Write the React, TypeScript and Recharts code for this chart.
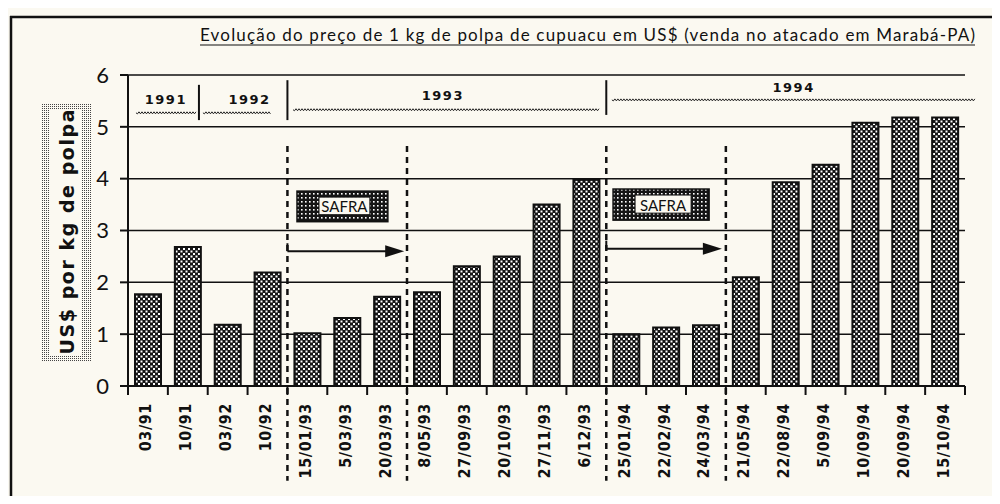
import React from "react";
import {
  BarChart,
  Bar,
  XAxis,
  YAxis,
  CartesianGrid,
  ReferenceLine,
  ReferenceArea,
  ReferenceDot,
} from "recharts";

// datas de coleta (eixo x)
const datas = [
  "03/91", "10/91", "03/92", "10/92", "15/01/93", "5/03/93", "20/03/93",
  "8/05/93", "27/09/93", "20/10/93", "27/11/93", "6/12/93", "25/01/94",
  "22/02/94", "24/03/94", "21/05/94", "22/08/94", "5/09/94", "10/09/94",
  "20/09/94", "15/10/94",
];

// US$ por kg de polpa
const precos = [
  1.77, 2.68, 1.18, 2.19, 1.02, 1.31, 1.72, 1.81, 2.31, 2.5, 3.5, 3.98,
  1.0, 1.13, 1.17, 2.1, 3.93, 4.27, 5.08, 5.18, 5.18,
];

const yTicks = [0, 1, 2, 3, 4, 5, 6];

const anos = ["1991", "1992", "1993", "1994"];

const dados = datas.map((d, i) => ({ data: d, preco: precos[i] }));

// anotações em unidades do gráfico (x = posição de categoria, y = US$)
const faixaAnos = [
  { x: 0.95, y: 5.52, de: 0.2, ate: 1.71, onda: 5.27 },
  { x: 3.05, y: 5.52, de: 1.88, ate: 3.61, onda: 5.27 },
  { x: 7.9, y: 5.6, de: 4.14, ate: 11.84, onda: 5.33 },
  { x: 16.7, y: 5.75, de: 12.14, ate: 21.25, onda: 5.52 },
];
const separadores = [
  { x: 1.78, y1: 5.81, y2: 5.13 },
  { x: 4, y1: 5.9, y2: 5.13 },
  { x: 12, y1: 5.9, y2: 5.23 },
];
const tracejadas = [4, 7, 12, 15];
const safras = [
  { x1: 4.24, x2: 6.52, y1: 3.17, y2: 3.76 },
  { x1: 12.17, x2: 14.58, y1: 3.2, y2: 3.8 },
];
const setas = [
  { de: 4, ate: 6.93, y: 2.6 },
  { de: 12, ate: 14.9, y: 2.65 },
];

const fundo = "#fbf9f1";
const tinta = "#111";
const margemTick = 17;

const TickData = (props: any) => {
  const { x, y, payload, index, visibleTicksCount, width } = props;
  const meia = payload.offset ?? width / visibleTicksCount / 2;
  const y0 = y - margemTick;
  const ultimo = index === visibleTicksCount - 1;
  return (
    <g>
      <line x1={x - meia} y1={y0} x2={x - meia} y2={y0 + 9} stroke={tinta} strokeWidth={2} />
      {ultimo && <line x1={x + meia} y1={y0} x2={x + meia} y2={y0 + 9} stroke={tinta} strokeWidth={2} />}
      <text
        x={x - 2}
        y={y}
        transform={`rotate(-90 ${x - 2} ${y})`}
        textAnchor="end"
        dominantBaseline="central"
        fontFamily="DejaVu Sans"
        fontStretch="condensed"
        fontWeight="bold"
        fontSize={16}
        letterSpacing={0.6}
        fill={tinta}
      >
        {payload.value}
      </text>
    </g>
  );
};

const Onda = (props: any) => {
  const { x1, y1, x2 } = props;
  let d = `M${x1},${y1}`;
  let i = 0;
  for (let x = x1 + 1.5; x <= x2; x += 1.5, i++) {
    d += ` L${x},${y1 + (i % 2 ? -1 : 1)}`;
  }
  return <path d={d} stroke="#222" strokeWidth={1} fill="none" />;
};

const Seta = (props: any) => {
  const { x1, y1, x2 } = props;
  return (
    <g>
      <line x1={x1} y1={y1 - 8} x2={x1} y2={y1} stroke={tinta} strokeWidth={2} />
      <line x1={x1} y1={y1} x2={x2 - 16} y2={y1} stroke={tinta} strokeWidth={2} />
      <polygon points={`${x2 - 19},${y1 - 6} ${x2},${y1} ${x2 - 19},${y1 + 6}`} fill={tinta} />
    </g>
  );
};

const Safra = (props: any) => {
  const { x, y, width, height } = props;
  const ix = x + 22;
  const iw = width - 40;
  return (
    <g>
      <rect x={x} y={y} width={width} height={height} fill="url(#pontos)" stroke={tinta} strokeWidth={1.5} />
      <rect x={ix} y={y + 6} width={iw} height={height - 13} fill={fundo} stroke={tinta} strokeWidth={1} />
      <text
        x={ix + iw / 2}
        y={y + height / 2}
        textAnchor="middle"
        dominantBaseline="central"
        fontFamily="Lato"
        fontSize={15}
        fill={tinta}
      >
        SAFRA
      </text>
    </g>
  );
};

export default function App() {
  return (
    <div
      style={{
        position: "relative",
        width: 1000,
        height: 504,
        margin: -8,
        background: fundo,
        overflow: "hidden",
      }}
    >
      <svg width={1000} height={504} style={{ position: "absolute", left: 0, top: 0 }}>
        <defs>
          <pattern id="pontilhado" width="2" height="2" patternUnits="userSpaceOnUse">
            <rect width="1" height="1" fill="#444" />
          </pattern>
        </defs>
        <line x1={10} y1={17} x2={1000} y2={17} stroke={tinta} strokeWidth={2.5} />
        <line x1={11} y1={16} x2={11} y2={501} stroke={tinta} strokeWidth={2.5} />
        <line x1={10} y1={501} x2={1000} y2={501} stroke={tinta} strokeWidth={2.5} />
        <text x={200} y={41} fontFamily="Lato" fontSize={17} textLength={775} lengthAdjust="spacing" fill={tinta}>
          Evolução do preço de 1 kg de polpa de cupuacu em US$ (venda no atacado em Marabá-PA)
        </text>
        <line x1={200} y1={45} x2={975} y2={45} stroke={tinta} strokeWidth={1.2} />
        <rect x={42} y={103} width={50} height={259} fill="url(#pontilhado)" />
        <rect x={50} y={110} width={31} height={245} fill={fundo} />
        <text
          x={67}
          y={232}
          transform="rotate(-90 67 232)"
          textAnchor="middle"
          dominantBaseline="central"
          fontFamily="DejaVu Sans"
          fontWeight="bold"
          fontSize={19}
          textLength={245}
          lengthAdjust="spacing"
          fill={tinta}
        >
          US$ por kg de polpa
        </text>
      </svg>
      <BarChart width={1000} height={504} data={dados} margin={{ top: 75, right: 35, bottom: 28, left: 0 }}>
        <defs>
          <pattern id="xadrez" width="5" height="5" patternUnits="userSpaceOnUse">
            <rect width="5" height="5" fill="#151515" />
            <rect x="0.5" y="0.5" width="2" height="2" fill="#fff" />
            <rect x="3" y="3" width="2" height="2" fill="#fff" />
          </pattern>
          <pattern id="pontos" width="4" height="4" patternUnits="userSpaceOnUse">
            <rect width="4" height="4" fill="#151515" />
            <rect x="1" y="1" width="1.6" height="1.6" fill="#fff" />
          </pattern>
        </defs>
        <CartesianGrid vertical={false} stroke={tinta} strokeWidth={1.5} xAxisId="cat" />
        <XAxis
          xAxisId="cat"
          dataKey="data"
          interval={0}
          tickLine={false}
          tickSize={0}
          tickMargin={margemTick}
          axisLine={{ stroke: tinta, strokeWidth: 2 }}
          height={90}
          tick={<TickData />}
        />
        <XAxis
          xAxisId="marcas"
          dataKey="preco"
          type="number"
          domain={[0, datas.length]}
          allowDataOverflow
          hide
        />
        <YAxis
          domain={[0, 6]}
          ticks={yTicks}
          interval={0}
          width={128}
          tickSize={8}
          tickMargin={11}
          axisLine={{ stroke: tinta, strokeWidth: 2 }}
          tickLine={{ stroke: tinta, strokeWidth: 2 }}
          tick={{ fill: tinta, fontSize: 22, fontFamily: "Lato" }}
        />
        <Bar
          xAxisId="cat"
          dataKey="preco"
          fill="url(#xadrez)"
          stroke={tinta}
          strokeWidth={2}
          barSize={26}
          isAnimationActive={false}
        />
        {tracejadas.map((x) => (
          <ReferenceLine
            key={`t${x}`}
            xAxisId="marcas"
            segment={[{ x, y: 4.63 }, { x, y: -1.83 }]}
            stroke={tinta}
            strokeWidth={2.5}
            strokeDasharray="6 5"
            ifOverflow="visible"
          />
        ))}
        {separadores.map((s) => (
          <ReferenceLine
            key={`s${s.x}`}
            xAxisId="marcas"
            segment={[{ x: s.x, y: s.y1 }, { x: s.x, y: s.y2 }]}
            stroke={tinta}
            strokeWidth={2}
            ifOverflow="visible"
          />
        ))}
        {faixaAnos.map((f) => (
          <ReferenceLine
            key={`o${f.x}`}
            xAxisId="marcas"
            segment={[{ x: f.de, y: f.onda }, { x: f.ate, y: f.onda }]}
            ifOverflow="visible"
            shape={<Onda />}
          />
        ))}
        {faixaAnos.map((f, i) => (
          <ReferenceDot
            key={`a${i}`}
            xAxisId="marcas"
            x={f.x}
            y={f.y}
            r={0}
            ifOverflow="visible"
            shape={(p: any) => (
              <text
                x={p.cx}
                y={p.cy}
                textAnchor="middle"
                dominantBaseline="central"
                fontFamily="DejaVu Sans"
                fontWeight="bold"
                fontSize={13}
                letterSpacing={1.5}
                fill={tinta}
              >
                {anos[i]}
              </text>
            )}
          />
        ))}
        {safras.map((s) => (
          <ReferenceArea
            key={`f${s.x1}`}
            xAxisId="marcas"
            x1={s.x1}
            x2={s.x2}
            y1={s.y1}
            y2={s.y2}
            ifOverflow="visible"
            shape={<Safra />}
          />
        ))}
        {setas.map((s) => (
          <ReferenceLine
            key={`r${s.de}`}
            xAxisId="marcas"
            segment={[{ x: s.de, y: s.y }, { x: s.ate, y: s.y }]}
            ifOverflow="visible"
            shape={<Seta />}
          />
        ))}
      </BarChart>
    </div>
  );
}
